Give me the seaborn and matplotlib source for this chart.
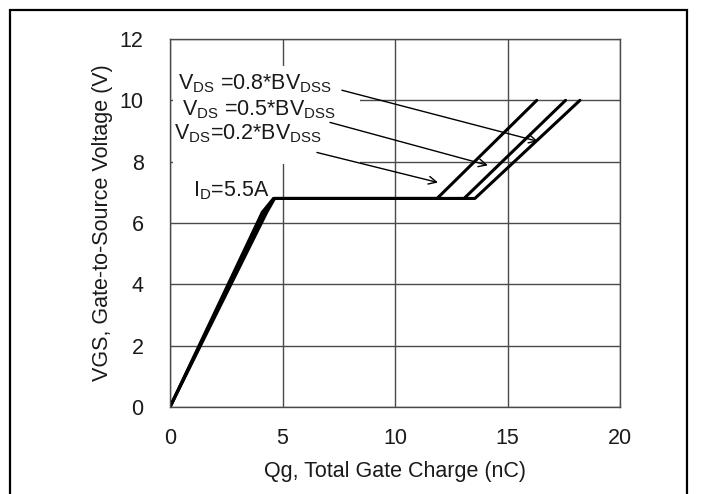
import pandas as pd
import matplotlib
matplotlib.use('Agg')
import matplotlib.pyplot as plt
import seaborn as sns
from matplotlib.patches import Rectangle

# Кривые заряда затвора
vgs = [0, 6.35, 6.8, 6.8, 10.0]
qg_02 = [0, 4.10, 4.60, 11.87, 16.30]
qg_05 = [0, 4.20, 4.62, 13.07, 17.58]
qg_08 = [0, 4.30, 4.65, 13.55, 18.22]
conditions = ['0.2', '0.5', '0.8']

x_ticks = [0, 5, 10, 15, 20]
y_ticks = [0, 2, 4, 6, 8, 10, 12]

# подписи и стрелки
labels = ['V$_{\\mathrm{DS}}$ =0.8*BV$_{\\mathrm{DSS}}$',
          'V$_{\\mathrm{DS}}$ =0.5*BV$_{\\mathrm{DSS}}$',
          'V$_{\\mathrm{DS}}$=0.2*BV$_{\\mathrm{DSS}}$']
label_xy = [(0.36, 10.36), (0.52, 9.51), (0.18, 8.73)]
arrow_from = [(7.64, 10.33), (7.11, 9.28), (6.53, 8.30)]
arrow_to = [(16.36, 8.66), (14.13, 7.88), (11.91, 7.32)]
id_label = 'I$_{\\mathrm{D}}$=5.5A'

rows = []
for cond, qg in zip(conditions, [qg_02, qg_05, qg_08]):
    for q, v in zip(qg, vgs):
        rows.append({'qg': q, 'vgs': v, 'cond': cond})
df = pd.DataFrame(rows)

sns.set_style('white')
plt.rcParams['font.family'] = ['Liberation Sans', 'DejaVu Sans']
plt.rcParams['mathtext.fontset'] = 'custom'
plt.rcParams['mathtext.rm'] = 'Liberation Sans'
plt.rcParams['mathtext.it'] = 'Liberation Sans:italic'
plt.rcParams['mathtext.bf'] = 'Liberation Sans:bold'

fs = 15.5
grid_c = '#4a4a4a'
txt_c = '#1a1a1a'

fig = plt.figure(figsize=(7.01, 4.94), dpi=100)
ax = fig.add_axes([170 / 701, 1 - 407 / 494, 450 / 701, 368 / 494])

sns.lineplot(data=df, x='qg', y='vgs', hue='cond', palette=['black'] * 3,
             estimator=None, sort=False, legend=False, lw=2.2, ax=ax)

ax.set_xlim(0, 20)
ax.set_ylim(0, 12)
ax.set_xticks(x_ticks)
ax.set_yticks(y_ticks)
ax.set_axisbelow(True)
ax.grid(True, color=grid_c, lw=1.0)
for s in ax.spines.values():
    s.set_visible(True)
    s.set_color(grid_c)
    s.set_linewidth(1.0)
ax.tick_params(length=0, labelsize=fs, colors=txt_c)
ax.tick_params(axis='y', pad=19)
ax.tick_params(axis='x', pad=15)
ax.set_xlabel('Qg, Total Gate Charge (nC)', fontsize=fs, labelpad=9, color=txt_c)
ax.set_ylabel('VGS, Gate-to-Source Voltage (V)', fontsize=fs, labelpad=5, color=txt_c)

# белая подложка под подписями
ax.add_patch(Rectangle((0.15, 7.93), 8.3, 3.2, facecolor='white',
                       edgecolor='none', zorder=1))

for txt, (tx, ty) in zip(labels, label_xy):
    ax.text(tx, ty, txt, fontsize=fs, va='baseline', ha='left', zorder=3, color=txt_c)
for (x0, y0), (x1, y1) in zip(arrow_from, arrow_to):
    ax.annotate('', xy=(x1, y1), xytext=(x0, y0),
                arrowprops=dict(arrowstyle='->', color='black', lw=1.0,
                                mutation_scale=14, shrinkA=0, shrinkB=0))
ax.text(1.02, 6.88, id_label, fontsize=fs, va='baseline', ha='left', color=txt_c)

# внешняя рамка
fig.patches.append(Rectangle((10 / 701, -0.1), 677 / 701, 1.1 - 10 / 494,
                             transform=fig.transFigure, fill=False,
                             edgecolor='black', lw=1.6, zorder=0))

fig.savefig('out.png', dpi=100)
